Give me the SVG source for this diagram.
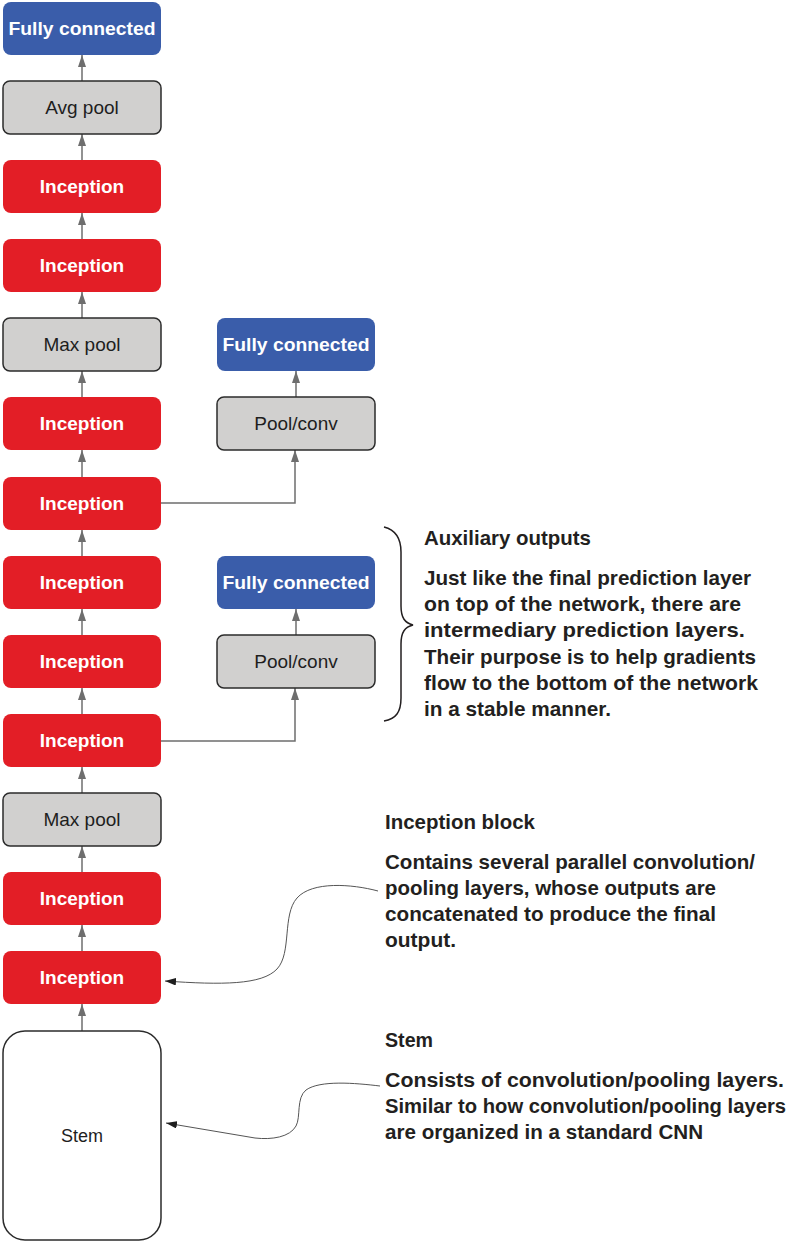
<svg xmlns="http://www.w3.org/2000/svg" width="792" height="1244" viewBox="0 0 792 1244">
<style>
.red{fill:#E31E26;}
.blue{fill:#3A5DAA;}
.gray{fill:#D1D0CF;stroke:#2b2b2b;stroke-width:1.5;}
.wt{font-family:"Liberation Sans",Arial,sans-serif;font-weight:bold;font-size:19px;fill:#ffffff;text-anchor:middle;}
.bt{font-family:"Liberation Sans",Arial,sans-serif;font-size:19px;fill:#1e1e1e;text-anchor:middle;}
.conn{fill:none;stroke:#6e6e6e;stroke-width:1.5;}
.ann{fill:none;stroke:#555555;stroke-width:1;}
.note{font-family:"Liberation Sans",Arial,sans-serif;font-weight:bold;font-size:21px;fill:#231f20;}
.note2{font-size:20px;}
</style>
<defs>
<marker id="ag" markerUnits="userSpaceOnUse" markerWidth="13" markerHeight="9" refX="12" refY="4" orient="auto">
<path d="M0,0 L12,4 L0,8 z" fill="#6e6e6e"/>
</marker>
<marker id="ab" markerUnits="userSpaceOnUse" markerWidth="12" markerHeight="8" refX="11" refY="3.75" orient="auto">
<path d="M0,0 L11,3.75 L0,7.5 z" fill="#1e1e1e"/>
</marker>
</defs>
<rect width="792" height="1244" fill="#ffffff"/>

<g id="connectors">
<line class="conn" x1="82" y1="81" x2="82" y2="55" marker-end="url(#ag)"/>
<line class="conn" x1="82" y1="160" x2="82" y2="134" marker-end="url(#ag)"/>
<line class="conn" x1="82" y1="239" x2="82" y2="213" marker-end="url(#ag)"/>
<line class="conn" x1="82" y1="318" x2="82" y2="292" marker-end="url(#ag)"/>
<line class="conn" x1="82" y1="397" x2="82" y2="371" marker-end="url(#ag)"/>
<line class="conn" x1="82" y1="477" x2="82" y2="450" marker-end="url(#ag)"/>
<line class="conn" x1="82" y1="556" x2="82" y2="530" marker-end="url(#ag)"/>
<line class="conn" x1="82" y1="635" x2="82" y2="609" marker-end="url(#ag)"/>
<line class="conn" x1="82" y1="714" x2="82" y2="688" marker-end="url(#ag)"/>
<line class="conn" x1="82" y1="793" x2="82" y2="767" marker-end="url(#ag)"/>
<line class="conn" x1="82" y1="872" x2="82" y2="846" marker-end="url(#ag)"/>
<line class="conn" x1="82" y1="951" x2="82" y2="925" marker-end="url(#ag)"/>
<line class="conn" x1="82" y1="1031" x2="82" y2="1004" marker-end="url(#ag)"/>
<line class="conn" x1="296" y1="397" x2="296" y2="371" marker-end="url(#ag)"/>
<line class="conn" x1="296" y1="635" x2="296" y2="609" marker-end="url(#ag)"/>
<polyline class="conn" points="161,503 295,503 295,450" marker-end="url(#ag)"/>
<polyline class="conn" points="161,741 295,741 295,688" marker-end="url(#ag)"/>
<path class="ann" d="M378,891 C352,884 312,881 297,898 C282,915 292,953 277,969 C262,985 222,985 165,981" marker-end="url(#ab)"/>
<path class="ann" d="M380,1086 C355,1083 320,1080 306,1090 C296,1098 301,1117 296,1126 C290,1137 272,1140 255,1138 L166,1123" marker-end="url(#ab)"/>
</g>

<g id="fc_top"><rect class="blue" x="3" y="2" width="158" height="53" rx="8"/><text class="wt" x="82" y="35" textLength="147" lengthAdjust="spacingAndGlyphs">Fully connected</text></g>
<g id="avg_pool"><rect class="gray" x="3" y="81" width="158" height="53" rx="7"/><text class="bt" x="82" y="114">Avg pool</text></g>
<g id="inception9"><rect class="red" x="3" y="160" width="158" height="53" rx="8"/><text class="wt" x="82" y="193">Inception</text></g>
<g id="inception8"><rect class="red" x="3" y="239" width="158" height="53" rx="8"/><text class="wt" x="82" y="272">Inception</text></g>
<g id="max_pool2"><rect class="gray" x="3" y="318" width="158" height="53" rx="7"/><text class="bt" x="82" y="351">Max pool</text></g>
<g id="inception7"><rect class="red" x="3" y="397" width="158" height="53" rx="8"/><text class="wt" x="82" y="430">Inception</text></g>
<g id="inception6"><rect class="red" x="3" y="477" width="158" height="53" rx="8"/><text class="wt" x="82" y="510">Inception</text></g>
<g id="inception5"><rect class="red" x="3" y="556" width="158" height="53" rx="8"/><text class="wt" x="82" y="589">Inception</text></g>
<g id="inception4"><rect class="red" x="3" y="635" width="158" height="53" rx="8"/><text class="wt" x="82" y="668">Inception</text></g>
<g id="inception3"><rect class="red" x="3" y="714" width="158" height="53" rx="8"/><text class="wt" x="82" y="747">Inception</text></g>
<g id="max_pool1"><rect class="gray" x="3" y="793" width="158" height="53" rx="7"/><text class="bt" x="82" y="826">Max pool</text></g>
<g id="inception2"><rect class="red" x="3" y="872" width="158" height="53" rx="8"/><text class="wt" x="82" y="905">Inception</text></g>
<g id="inception1"><rect class="red" x="3" y="951" width="158" height="53" rx="8"/><text class="wt" x="82" y="984">Inception</text></g>
<g id="stem"><rect x="3" y="1031" width="158" height="209" rx="22" fill="#ffffff" stroke="#2b2b2b" stroke-width="1.5"/><text class="bt" x="82" y="1142" style="font-size:18px">Stem</text></g>

<g id="aux_fc1"><rect class="blue" x="217" y="318" width="158" height="53" rx="8"/><text class="wt" x="296" y="351" textLength="147" lengthAdjust="spacingAndGlyphs">Fully connected</text></g>
<g id="aux_pool1"><rect class="gray" x="217" y="397" width="158" height="53" rx="7"/><text class="bt" x="296" y="430">Pool/conv</text></g>
<g id="aux_fc2"><rect class="blue" x="217" y="556" width="158" height="53" rx="8"/><text class="wt" x="296" y="589" textLength="147" lengthAdjust="spacingAndGlyphs">Fully connected</text></g>
<g id="aux_pool2"><rect class="gray" x="217" y="635" width="158" height="53" rx="7"/><text class="bt" x="296" y="668">Pool/conv</text></g>

<g id="brace">
<path d="M384,527 C396,530 401,538 401,552 L401,606 C401,618 405,623 413,625 C405,627 401,632 401,644 L401,698 C401,712 396,719 384,721" fill="none" stroke="#231f20" stroke-width="1.5"/>
</g>

<g id="note_aux">
<text class="note" x="424" y="545" textLength="167" lengthAdjust="spacingAndGlyphs">Auxiliary outputs</text>
<text class="note" x="424" y="585" textLength="327" lengthAdjust="spacingAndGlyphs">Just like the final prediction layer</text>
<text class="note" x="424" y="611" textLength="317" lengthAdjust="spacingAndGlyphs">on top of the network, there are</text>
<text class="note" x="424" y="637" textLength="321" lengthAdjust="spacingAndGlyphs">intermediary prediction layers.</text>
<text class="note" x="424" y="664" textLength="332" lengthAdjust="spacingAndGlyphs">Their purpose is to help gradients</text>
<text class="note" x="424" y="690" textLength="334" lengthAdjust="spacingAndGlyphs">flow to the bottom of the network</text>
<text class="note" x="424" y="716" textLength="187" lengthAdjust="spacingAndGlyphs">in a stable manner.</text>
</g>

<g id="note_inception">
<text class="note" x="385" y="829" textLength="150" lengthAdjust="spacingAndGlyphs">Inception block</text>
<text class="note" x="385" y="869" textLength="370" lengthAdjust="spacingAndGlyphs">Contains several parallel convolution/</text>
<text class="note" x="385" y="895" textLength="331" lengthAdjust="spacingAndGlyphs">pooling layers, whose outputs are</text>
<text class="note" x="385" y="921" textLength="331" lengthAdjust="spacingAndGlyphs">concatenated to produce the final</text>
<text class="note" x="385" y="947" textLength="71" lengthAdjust="spacingAndGlyphs">output.</text>
</g>

<g id="note_stem">
<text class="note" x="385" y="1047" textLength="48" lengthAdjust="spacingAndGlyphs">Stem</text>
<text class="note note2" x="385" y="1087" textLength="399" lengthAdjust="spacingAndGlyphs">Consists of convolution/pooling layers.</text>
<text class="note note2" x="385" y="1113" textLength="401" lengthAdjust="spacingAndGlyphs">Similar to how convolution/pooling layers</text>
<text class="note" x="385" y="1139" textLength="318" lengthAdjust="spacingAndGlyphs">are organized in a standard CNN</text>
</g>
</svg>
